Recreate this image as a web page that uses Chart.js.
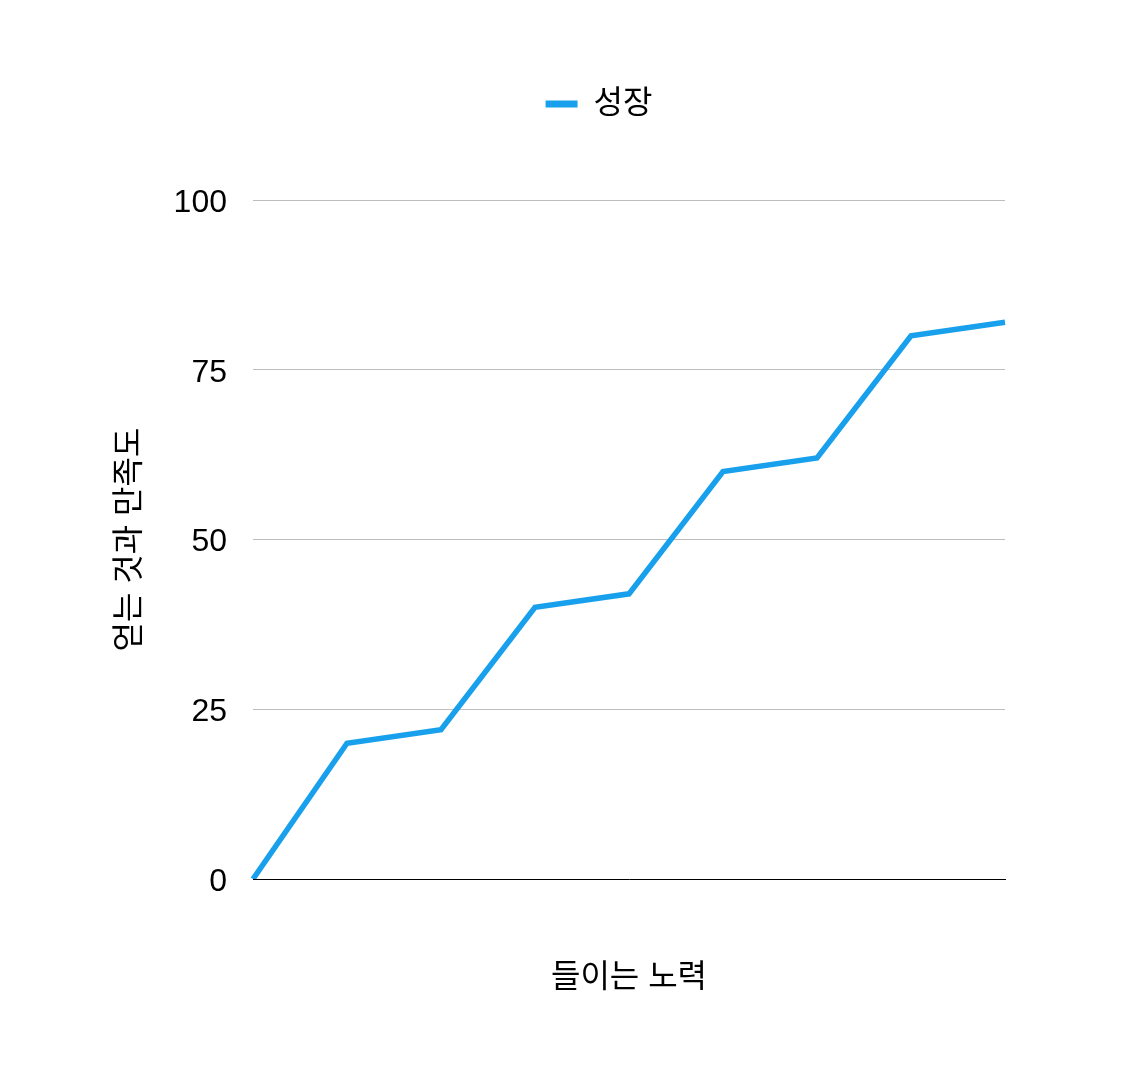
<!DOCTYPE html>
<html>
<head>
<meta charset="utf-8">
<script src="https://cdn.jsdelivr.net/npm/chart.js@4/dist/chart.umd.min.js"></script>
<style>
  html, body { margin: 0; padding: 0; background: #fff; }
  #wrap { width: 1143px; height: 1080px; position: relative; }
</style>
</head>
<body>
<div id="wrap"><canvas id="c"></canvas></div>
<script>
const categories = ['1', '2', '3', '4', '5', '6', '7', '8', '9'];
const seriesName = '성장';
const growthValues = [0, 20, 22, 40, 42, 60, 62, 80, 82];
const yTicks = [0, 25, 50, 75, 100];
const xTitle = '들이는 노력';
const yTitle = '얻는 것과 만족도';

const FONT = "'Liberation Sans', 'Noto Sans CJK KR', sans-serif";
const BLUE = 'rgb(24,160,236)';
Chart.defaults.color = '#000';
Chart.defaults.font.family = FONT;

const legendGap = {
  id: 'legendGap',
  beforeInit(chart) {
    const orig = chart.legend.fit;
    chart.legend.fit = function () {
      orig.call(this);
      this.height = 200;
    };
  }
};

new Chart(document.getElementById('c'), {
  type: 'line',
  data: {
    labels: categories,
    datasets: [{
      label: seriesName,
      data: growthValues,
      borderColor: BLUE,
      backgroundColor: BLUE,
      borderWidth: 5.5,
      pointRadius: 0,
      tension: 0,
      borderCapStyle: 'butt',
      borderJoinStyle: 'miter'
    }]
  },
  plugins: [legendGap],
  options: {
    responsive: true,
    maintainAspectRatio: false,
    devicePixelRatio: 1,
    animation: false,
    layout: { padding: { left: 55, right: 0, top: 0, bottom: 0 } },
    plugins: {
      tooltip: { enabled: false },
      legend: {
        position: 'top',
        labels: {
          boxWidth: 32,
          boxHeight: 7,
          padding: 88,
          font: { size: 32, family: FONT },
          color: '#000',
          generateLabels(chart) {
            return Chart.defaults.plugins.legend.labels.generateLabels(chart).map(l => ({ ...l, lineWidth: 0 }));
          }
        }
      }
    },
    scales: {
      x: {
        type: 'category',
        offset: false,
        grid: { display: false, drawTicks: false },
        border: { display: true, color: '#000', width: 1 },
        ticks: { display: false },
        title: {
          display: true,
          text: xTitle,
          font: { size: 32, family: FONT },
          color: '#000',
          padding: { top: 0, bottom: 83 }
        },
        afterFit(s) { s.height = 201; }
      },
      y: {
        min: 0,
        max: 100,
        afterBuildTicks(s) { s.ticks = yTicks.map(v => ({ value: v })); },
        grid: { color: '#bdbdbd', lineWidth: 1, drawTicks: false },
        border: { display: false },
        ticks: { padding: 26, labelOffset: 3, font: { size: 32, family: FONT }, color: '#000' },
        title: {
          display: true,
          text: yTitle,
          font: { size: 32, family: FONT },
          color: '#000',
          padding: { top: 56, bottom: 0 }
        },
        afterFit(s) { s.width = 198; }
      },
      yRight: {
        position: 'right',
        display: true,
        grid: { display: false, drawTicks: false },
        border: { display: false },
        ticks: { display: false },
        afterFit(s) { s.width = 138; }
      }
    }
  }
});
</script>
</body>
</html>
